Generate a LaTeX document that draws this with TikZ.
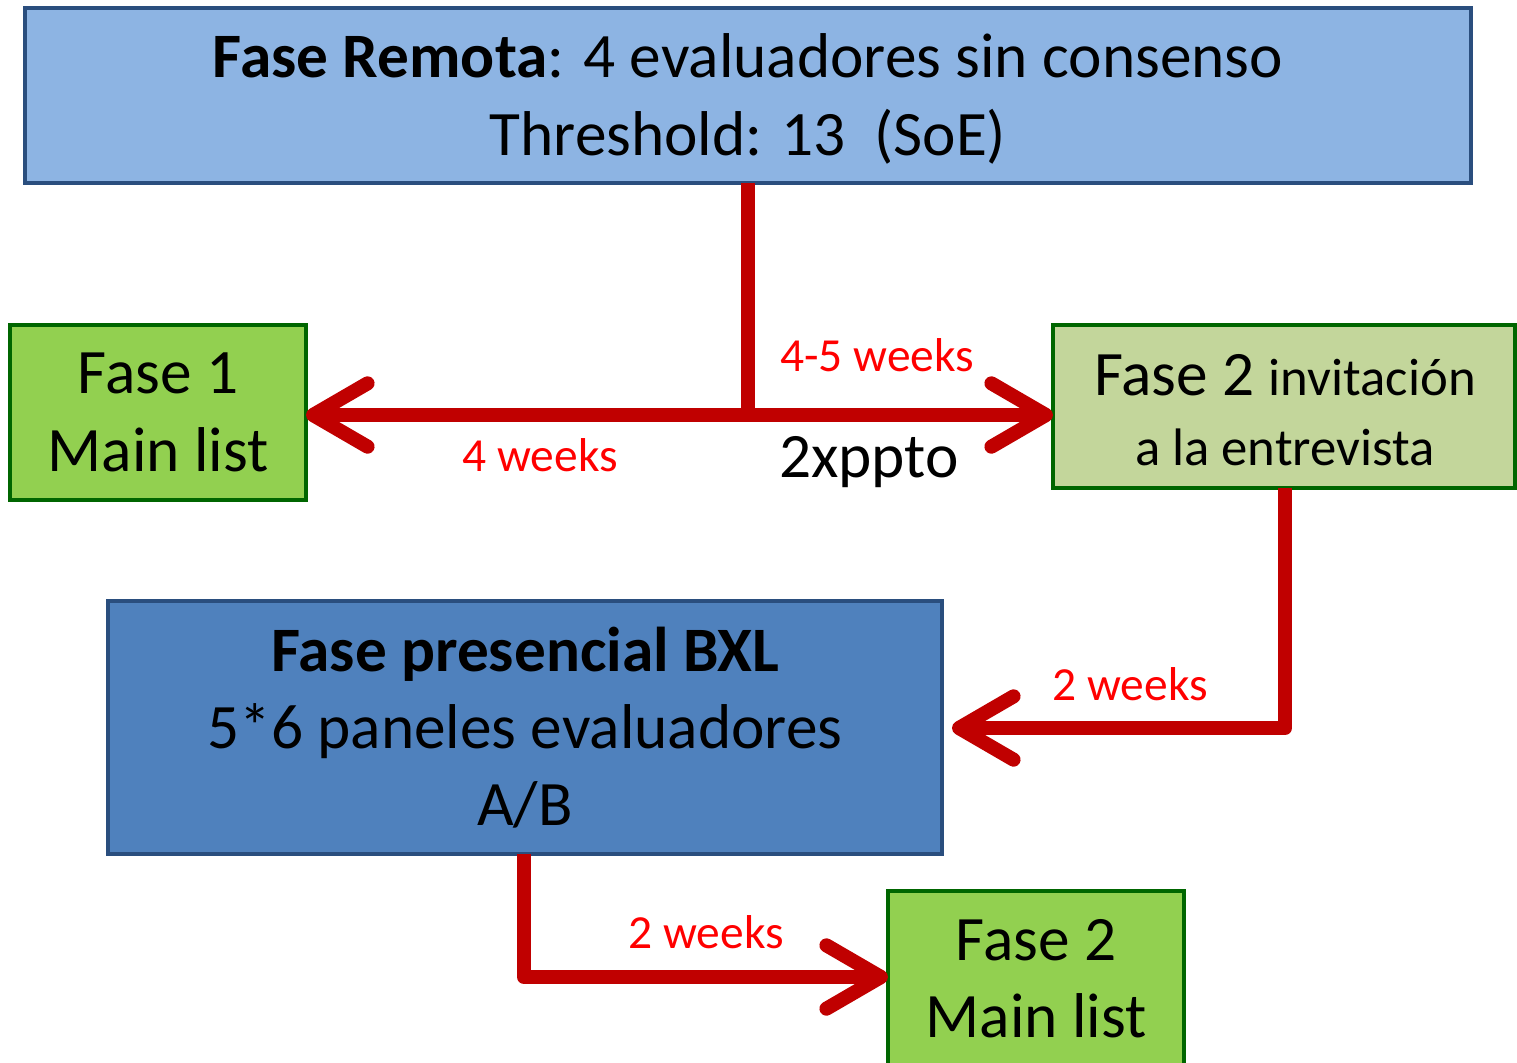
\documentclass[tikz,border=0pt]{standalone}
\usepackage{fontspec}
\setmainfont{Carlito}
\usetikzlibrary{arrows.meta}
\definecolor{topfill}{HTML}{8DB4E3}
\definecolor{bluefill}{HTML}{4F81BD}
\definecolor{blueline}{HTML}{2A4E7E}
\definecolor{greenfill}{HTML}{92D050}
\definecolor{lightgreen}{HTML}{C3D69B}
\definecolor{greenline}{HTML}{006600}
\definecolor{arrowred}{HTML}{C00000}
\tikzset{
  box/.style={draw, line width=1.2pt, rectangle, align=center, inner sep=0pt, outer sep=0pt,
    font=\fontsize{18}{22}\selectfont},
  bluebox/.style={box, draw=blueline},
  greenbox/.style={box, draw=greenline, fill=greenfill},
  flow/.style={draw=arrowred, line width=4pt, line join=round,
    -{Straight Barb[length=15.5pt, width=18pt, round]}},
  plain/.style={draw=arrowred, line width=4pt, line join=round},
  redlbl/.style={text=red, font=\fontsize{13.5}{16}\selectfont, inner sep=0pt},
  txt/.style={align=center, inner sep=0pt, font=\fontsize{18}{22}\selectfont},
}
\begin{document}
\begin{tikzpicture}[x=0.01cm, y=-0.01cm]
\useasboundingbox (0,0) rectangle (1517,1063);
\node[bluebox, fill=topfill, minimum width=1446*0.01cm, minimum height=175*0.01cm] (remota) at (748,95.5)
  {};
\node[txt] (remotatxt) at (748,99)
  {\textbf{Fase Remota}: 4 evaluadores sin consenso\\Threshold: 13~~(SoE)};
\node[greenbox, minimum width=296*0.01cm, minimum height=175*0.01cm] (fase1) at (158,412.5)
  {Fase 1\\Main list};
\node[box, draw=greenline, fill=lightgreen, minimum width=462*0.01cm, minimum height=163*0.01cm] (fase2inv) at (1284,406.5)
  {};
\node[txt] (fase2invtxt) at (1285,410)
  {Fase 2 {\fontsize{15}{18}\selectfont invitación}\\[-2pt]{\fontsize{15}{18}\selectfont a la entrevista}};
\node[bluebox, fill=bluefill, minimum width=834*0.01cm, minimum height=253*0.01cm] (presencial) at (525,727.5)
  {\textbf{Fase presencial BXL}\\5*6 paneles evaluadores\\A/B};
\node[greenbox, minimum width=296*0.01cm, minimum height=175*0.01cm] (fase2main) at (1036,978.5)
  {Fase 2\\Main list};

\coordinate (j) at (748,415);
\coordinate (c2) at (1285,728);
\coordinate (c3) at (524,977);

\draw[plain] (remota.south -| j) -- (j);
\draw[flow] (j) -- (fase1.east |- j);
\draw[flow] (j) -- (fase2inv.west |- j);
\draw[flow] (fase2inv.south -| c2) -- (c2) -- ([xshift=10*0.01cm]presencial.east |- c2);
\draw[flow] (presencial.south -| c3) -- (c3) -- (fase2main.west |- c3);

\node[redlbl] (l45) at (877,355) {4-5 weeks};
\node[redlbl] (l4) at (540,455) {4 weeks};
\node[inner sep=0pt, font=\fontsize{18}{22}\selectfont] (ppto) at (869,462) {2xppto};
\node[redlbl] (l2a) at (1130,684) {2 weeks};
\node[redlbl] (l2b) at (706,932) {2 weeks};
\end{tikzpicture}
\end{document}
